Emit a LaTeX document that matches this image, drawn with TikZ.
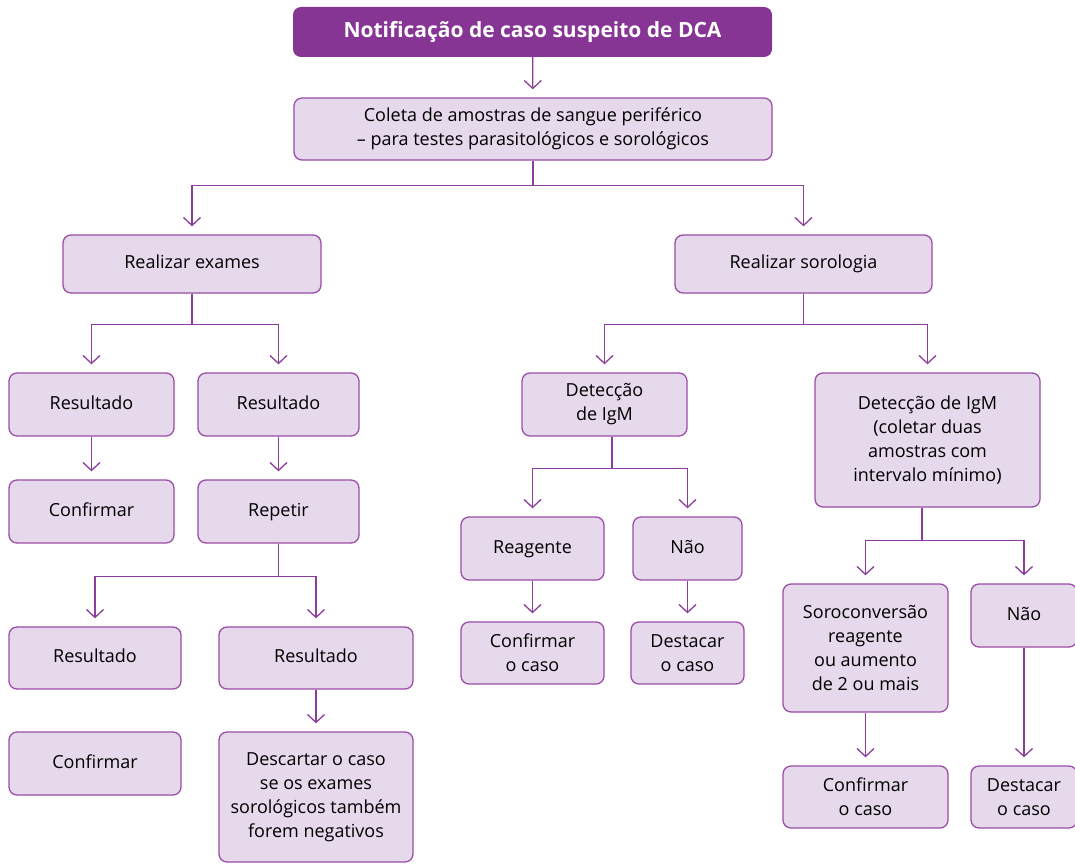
\documentclass[tikz,border=0pt]{standalone}
\usepackage{fontspec}
\setmainfont{Open Sans}
\usetikzlibrary{arrows.meta,positioning,calc}
\definecolor{boxfill}{HTML}{E6D9EC}
\definecolor{boxline}{HTML}{9B4DA8}
\definecolor{topfill}{HTML}{863594}
\definecolor{conn}{HTML}{8B3F9B}
\begin{document}
\begin{tikzpicture}[x=1pt,y=-1pt,
  box/.style={draw=boxline, fill=boxfill, line width=1.3pt, rounded corners=8pt,
    inner sep=0pt, align=center, font=\fontsize{18}{24}\selectfont, text=black},
  one/.style={text height=13pt, text depth=4pt},
  topbox/.style={fill=topfill, rounded corners=8pt, inner sep=0pt, align=center,
    font=\fontsize{21}{24}\selectfont\bfseries, text=white, text height=15pt, text depth=4pt},
  arr/.style={draw=conn, line width=1.3pt, -{Straight Barb[length=8pt,width=17pt,line width=1.3pt]}, shorten >=8pt}]
\useasboundingbox (0,0) rectangle (1075,864);
\newcommand{\bx}[7][]{\node[box, #1, minimum width=#5, minimum height=#6] (#2) at (#3,#4) {#7};}
% top
\node[topbox, minimum width=479, minimum height=50] (top) at (532.5,32) {Notificação de caso suspeito de DCA};
\bx{col}{533}{129}{478}{62}{Coleta de amostras de sangue periférico\\– para testes parasitológicos e sorológicos}
\bx[one]{rex}{192}{264}{258}{58}{Realizar exames}
\bx[one]{rsor}{803.5}{264}{257}{58}{Realizar sorologia}
\bx[one]{ra}{91.5}{404.5}{165}{63}{Resultado}
\bx[one]{rb}{278.5}{404.5}{161}{63}{Resultado}
\bx[one]{cfa}{91.5}{511.5}{165}{63}{Confirmar}
\bx[one]{rep}{278.5}{511.5}{161}{63}{Repetir}
\bx[one]{rc}{95}{658}{172}{62}{Resultado}
\bx[one]{rd}{316}{658}{194}{62}{Resultado}
\bx[one]{cfb}{95}{763.5}{172}{63}{Confirmar}
\bx{desc}{316}{797}{194}{130}{Descartar o caso\\se os exames\\sorológicos também\\forem negativos}
\bx{deta}{604.5}{404.5}{165}{63}{Detecção\\de IgM}
\bx[one]{reag}{532.5}{548.5}{143}{63}{Reagente}
\bx[one]{naoa}{687.5}{548.5}{109}{63}{Não}
\bx{cca}{532.5}{653}{143}{62}{Confirmar\\o caso}
\bx{dca}{687.5}{653}{113}{62}{Destacar\\o caso}
\bx{detb}{927.5}{440}{225}{134}{Detecção de IgM\\(coletar duas\\amostras com\\intervalo mínimo)}
\bx{soro}{865.5}{648}{165}{128}{Soroconversão\\reagente\\ou aumento\\de 2 ou mais}
\bx[one]{naob}{1024}{615.5}{106}{63}{Não}
\bx{ccb}{865.5}{797}{165}{62}{Confirmar\\o caso}
\bx{dcb}{1024}{797}{106}{62}{Destacar\\o caso}
% connectors
\draw[arr] (top) -- (col);
\draw[arr] (col.south) -- ++(0,25) -| (rex.north);
\draw[arr] (col.south) -- ++(0,25) -| (rsor.north);
\draw[arr] (rex.south) -- ++(0,31) -| (ra.north);
\draw[arr] (rex.south) -- ++(0,31) -| (rb.north);
\draw[arr] (ra) -- (cfa);
\draw[arr] (rb) -- (rep);
\draw[arr] (rep.south) -- ++(0,33) -| (rc.north);
\draw[arr] (rep.south) -- ++(0,33) -| (rd.north);
\draw[arr] (rd) -- (desc);
\draw[arr] (rsor.south) -- ++(0,31) -| (deta.north);
\draw[arr] (rsor.south) -- ++(0,31) -| (detb.north);
\draw[arr] ($(deta.south)+(7.5,0)$) -- ++(0,32) -| (reag.north);
\draw[arr] ($(deta.south)+(7.5,0)$) -- ++(0,32) -| (naoa.north);
\draw[arr] (reag) -- (cca);
\draw[arr] (naoa) -- (dca);
\draw[arr] ($(detb.south)+(-5.5,0)$) -- ++(0,33) -| (soro.north);
\draw[arr] ($(detb.south)+(-5.5,0)$) -- ++(0,33) -| (naob.north);
\draw[arr] (soro) -- (ccb);
\draw[arr] (naob) -- (dcb);
\end{tikzpicture}
\end{document}
